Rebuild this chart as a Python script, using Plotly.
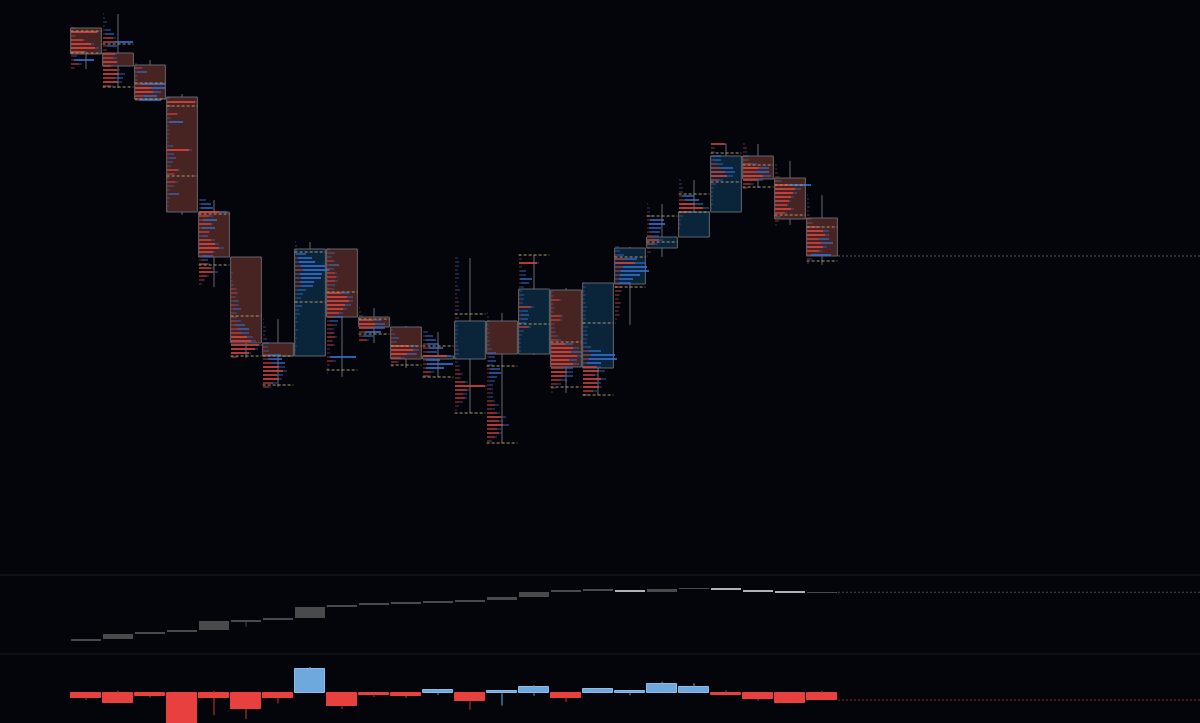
import plotly.graph_objects as go

# ---------------- data ----------------
candle_open  = [972, 947, 935, 903, 788, 743, 657, 644, 751, 683, 673, 641,
                641, 679, 646, 710, 632, 716, 752, 763, 788, 844, 822, 782]
candle_close = [946, 934, 901, 788, 743, 657, 644, 751, 683, 673, 641, 644,
                679, 646, 711, 633, 717, 752, 763, 788, 844, 821, 781, 744]
candle_high  = [972, 986, 940, 906, 800, 743, 681, 758, 751, 692, 674, 668,
                742, 687, 745, 712, 717, 753, 796, 820, 856, 856, 839, 805]
candle_low   = [931, 912, 899, 785, 713, 642, 613, 644, 623, 657, 632, 623,
                587, 557, 645, 607, 605, 675, 743, 763, 788, 812, 775, 735]
value_area_high = [969, 956, 917, 894, 786, 684, 644, 748, 708, 681, 654, 654,
                   686, 634, 745, 658, 677, 743, 784, 806, 847, 835, 815, 773]
value_area_low  = [947, 913, 901, 824, 735, 644, 615, 698, 630, 666, 635, 623,
                   587, 557, 676, 613, 605, 713, 758, 788, 818, 813, 785, 739]

PROFILE_STEP = 4  # price distance between profile rows (starting at the high)
profile_sell = [
    [3, 26, 4, 12, 20, 24, 14, 2, 3, 8, 3],
    [0, 0, 1, 1, 2, 2, 10, 12, 4, 3, 12, 10, 14, 8, 14, 16, 12, 15, 8],
    [0, 1, 6, 2, 1, 2, 6, 16, 18, 8, 4],
    [0, 1, 28, 4, 1, 10, 2, 2, 1, 1, 2, 1, 1, 1, 22, 1, 2, 1, 2, 11, 6, 2, 8, 3, 1, 2, 1, 1, 1, 0, 0],
    [1, 2, 2, 20, 10, 4, 12, 3, 10, 2, 12, 16, 20, 14, 3, 2, 9, 12, 14, 8, 5, 2],
    [0, 0, 0, 0, 1, 1, 1, 2, 4, 6, 3, 2, 5, 2, 3, 2, 5, 4, 6, 10, 16, 20, 28, 24, 18, 6],
    [0, 0, 1, 1, 1, 1, 2, 3, 2, 6, 5, 10, 16, 20, 14, 16, 10, 6],
    [0, 0, 1, 1, 3, 4, 6, 8, 5, 6, 5, 6, 3, 2, 2, 1, 1, 1, 1, 0, 1, 0, 1, 0, 1, 0, 1, 0, 0],
    [1, 2, 2, 6, 2, 4, 8, 9, 8, 3, 4, 14, 20, 22, 18, 16, 12, 6, 3, 6, 4, 7, 8, 5, 6, 2, 2, 3, 6, 2, 1, 1, 0],
    [1, 1, 2, 14, 16, 14, 6, 4, 8],
    [0, 1, 1, 2, 2, 18, 22, 16, 10, 6, 2],
    [1, 2, 3, 4, 6, 4, 24, 3, 4, 3, 8, 6],
    [1, 1, 2, 1, 1, 2, 1, 1, 2, 1, 1, 3, 2, 1, 1, 2, 1, 1, 2, 1, 1, 2, 1, 3, 2, 1, 2, 3, 4,
     6, 4, 10, 30, 12, 8, 10, 5, 2, 1],
    [0, 1, 1, 0, 1, 1, 1, 1, 1, 2, 1, 2, 1, 2, 3, 2, 2, 3, 2, 4, 3, 2, 6, 8, 5, 10, 14, 12, 16, 10, 12, 8, 4],
    [1, 2, 18, 2, 1, 2, 1, 2, 2, 1, 1, 2, 2, 12, 3, 2, 2, 2, 10, 2, 1, 1, 1, 1, 1, 0],
    [0, 1, 2, 8, 2, 3, 2, 10, 9, 3, 2, 3, 4, 6, 14, 22, 20, 26, 18, 22, 12, 16, 14, 10, 6, 3, 1],
    [0, 1, 1, 1, 1, 2, 1, 1, 2, 1, 1, 2, 2, 1, 2, 1, 2, 6, 8, 6, 4, 14, 16, 12, 18, 14, 16, 10, 4],
    [1, 1, 3, 10, 20, 8, 6, 5, 4, 4, 5, 6, 4, 3, 5, 4, 3, 4, 2, 1],
    [0, 1, 1, 2, 3, 2, 2, 3, 6, 12, 8, 2, 3, 1],
    [1, 1, 2, 1, 3, 6, 16, 24, 10, 2, 1, 1, 1, 0, 0],
    [14, 3, 2, 2, 2, 6, 10, 14, 16, 8, 2, 1, 1, 1, 1, 1, 1, 0],
    [1, 3, 2, 2, 3, 8, 16, 12, 20, 14, 8, 4],
    [0, 1, 1, 2, 3, 4, 14, 20, 18, 16, 14, 12, 16, 10, 4, 3, 1],
    [0, 1, 1, 1, 1, 2, 3, 4, 10, 16, 18, 12, 14, 16, 12, 4, 3, 1],
]
profile_buy = [
    [2, 2, 1, 2, 3, 4, 2, 4, 20, 3, 1],
    [1, 2, 3, 1, 6, 9, 3, 18, 10, 1, 2, 4, 1, 2, 3, 6, 8, 4, 2],
    [0, 1, 2, 10, 2, 1, 24, 14, 8, 14, 22],
    [0, 2, 2, 1, 1, 1, 2, 14, 1, 2, 1, 1, 1, 5, 3, 6, 7, 5, 2, 2, 2, 1, 3, 4, 2, 10, 2, 1, 1, 1, 0],
    [6, 10, 12, 8, 4, 14, 2, 13, 1, 7, 4, 4, 5, 2, 11, 7, 2, 3, 5, 2, 1, 1],
    [0, 0, 0, 0, 1, 0, 1, 1, 2, 1, 2, 6, 3, 8, 3, 4, 5, 10, 12, 8, 6, 5, 4, 3, 2, 1],
    [1, 1, 2, 2, 1, 3, 4, 2, 4, 12, 14, 12, 6, 4, 6, 3, 4, 2],
    [1, 2, 1, 10, 14, 16, 24, 26, 22, 20, 14, 12, 8, 6, 4, 2, 6, 3, 4, 2, 2, 1, 2, 1, 1, 1, 1, 1, 0],
    [2, 6, 3, 2, 10, 3, 2, 2, 3, 5, 3, 8, 6, 4, 6, 4, 4, 10, 8, 4, 3, 1, 2, 1, 2, 1, 1, 26, 3, 1, 1, 0, 0],
    [0, 1, 2, 8, 10, 12, 16, 10, 2],
    [0, 1, 3, 6, 4, 8, 6, 10, 4, 2, 1],
    [4, 8, 10, 12, 14, 10, 4, 14, 26, 18, 3, 2],
    [2, 3, 2, 2, 3, 2, 1, 2, 3, 1, 2, 1, 2, 3, 1, 2, 1, 2, 1, 2, 1, 1, 2, 1, 2, 1, 1, 2, 1, 2,
     2, 3, 2, 3, 4, 2, 3, 2, 1],
    [1, 1, 2, 2, 1, 2, 1, 2, 2, 3, 8, 6, 8, 4, 10, 12, 8, 5, 4, 2, 3, 4, 2, 4, 3, 3, 5, 4, 6, 4, 3, 2, 1],
    [1, 1, 2, 1, 6, 5, 12, 8, 3, 2, 4, 3, 2, 3, 6, 8, 7, 5, 2, 3, 2, 1, 1, 1, 1, 0],
    [0, 1, 1, 2, 1, 1, 1, 2, 2, 1, 2, 2, 3, 4, 8, 6, 10, 5, 8, 6, 10, 6, 8, 6, 4, 2, 1],
    [1, 2, 1, 2, 1, 1, 3, 2, 1, 2, 1, 3, 2, 4, 2, 3, 6, 12, 24, 28, 14, 4, 6, 3, 5, 4, 3, 4, 2],
    [3, 4, 6, 12, 10, 24, 28, 20, 14, 12, 2, 1, 1, 1, 1, 1, 1, 1, 0, 0],
    [1, 2, 2, 4, 14, 16, 12, 10, 6, 4, 3, 1, 1, 0],
    [1, 2, 2, 3, 12, 14, 8, 6, 4, 2, 1, 1, 0, 0, 0],
    [2, 1, 2, 8, 8, 6, 12, 10, 6, 4, 3, 2, 1, 1, 1, 1, 0, 0],
    [1, 1, 2, 4, 3, 6, 10, 14, 8, 6, 3, 1],
    [0, 1, 1, 1, 2, 3, 22, 6, 4, 3, 2, 2, 3, 2, 2, 1, 1],
    [1, 1, 1, 2, 1, 1, 2, 2, 4, 6, 4, 10, 12, 4, 3, 20, 2, 1],
]

# cumulative (middle pane)
cum_start = 19.0
cum_close = [20.7, 25.7, 28, 30, 38.7, 40, 42.3, 53, 55, 56.7, 57.3, 58,
             60, 63.3, 68, 69.3, 70, 68.3, 71, 72, 70, 68.3, 67, 67.7]
cum_low_extra = {5: 33.3}

# delta (bottom pane)
delta_close = [-4.4, -10, -2.4, -34, -4.4, -15.7, -4.4, 24, -13, -1.3, -2.7, 3,
               -8, 2.3, 6.3, -4.7, 4.6, 2, 9.6, 6, -1.4, -6, -10, -6.7]
delta_high = [0, 2.6, 0, 0, 2.3, 0, 0.6, 26.3, 0, 0, 0, 4.3,
              0, 2.6, 8, 0, 4.6, 2, 11.6, 10, 3, 0, 0, 2.3]
delta_low = [-6.7, -10, -4.4, -34, -21.7, -25.7, -10, 0, -15.7, -3.7, -4.7, -1.7,
             -16.4, -12.4, -2.4, -8.7, 0, -2, 0, 0, -1.4, -7.7, -10, -6.7]

# ---------------- styling ----------------
BG = "#04050b"
W, H = 1200, 723
X_RANGE = [-86 / 32, (W - 86) / 32]
SELL = (222, 70, 66)
BUY = (52, 112, 212)
VOL_PX = 1 / 32.0

n = len(candle_open)
xs = list(range(n))

def dom(top_px, bot_px):
    return [(H - bot_px) / H, (H - top_px) / H]

fig = go.Figure()

# ---- candle bodies (shapes in data coords) ----
for i in range(n):
    up = candle_close[i] >= candle_open[i]
    fig.add_shape(type="rect", xref="x", yref="y",
                  x0=i - 0.48, x1=i + 0.48,
                  y0=candle_open[i], y1=candle_close[i],
                  fillcolor="#0a2439" if up else "#472322",
                  line=dict(color="#62676e", width=1), layer="below")

# ---- profiles ----
def rgba(c, v):
    a = 0.22 + 0.6 * min(v / 16.0, 1.0)
    return f"rgba({c[0]},{c[1]},{c[2]},{a:.2f})"

sy, sx, sb, sc = [], [], [], []
by, bx, bb, bc = [], [], [], []
for i in range(n):
    left = i - 0.5 + 0.03
    for k, (s, b) in enumerate(zip(profile_sell[i], profile_buy[i])):
        p = candle_high[i] - k * PROFILE_STEP
        if s > 0:
            sy.append(p); sx.append(s * VOL_PX); sb.append(left); sc.append(rgba(SELL, s))
        if b > 0:
            by.append(p); bx.append(b * VOL_PX); bb.append(left + s * VOL_PX); bc.append(rgba(BUY, b))

fig.add_trace(go.Bar(orientation="h", y=sy, x=sx, base=sb, width=1.7,
                     marker=dict(color=sc, line=dict(width=0)),
                     xaxis="x", yaxis="y", showlegend=False, hoverinfo="skip"))
fig.add_trace(go.Bar(orientation="h", y=by, x=bx, base=bb, width=1.7,
                     marker=dict(color=bc, line=dict(width=0)),
                     xaxis="x", yaxis="y", showlegend=False, hoverinfo="skip"))

# ---- wicks ----
wx, wy = [], []
for i in range(n):
    top = max(candle_open[i], candle_close[i])
    bot = min(candle_open[i], candle_close[i])
    if candle_high[i] > top:
        wx += [i, i, None]; wy += [candle_high[i], top, None]
    if candle_low[i] < bot:
        wx += [i, i, None]; wy += [bot, candle_low[i], None]
fig.add_trace(go.Scatter(x=wx, y=wy, mode="lines", line=dict(color="#666a70", width=1),
                         xaxis="x", yaxis="y", showlegend=False, hoverinfo="skip"))

# ---- value area dashed lines ----
vx, vy = [], []
for i in range(n):
    for lvl in (value_area_high[i], value_area_low[i]):
        vx += [i - 0.48, i + 0.48, None]; vy += [lvl, lvl, None]
fig.add_trace(go.Scatter(x=vx, y=vy, mode="lines",
                         line=dict(color="#ab9b68", width=1, dash="3px,2px"),
                         xaxis="x", yaxis="y", showlegend=False, hoverinfo="skip"))

# last price line
fig.add_trace(go.Scatter(x=[n - 0.5, X_RANGE[1] + 1], y=[candle_close[-1]] * 2, mode="lines",
                         line=dict(color="#5c6068", width=1, dash="2px,2px"),
                         xaxis="x", yaxis="y", showlegend=False, hoverinfo="skip"))

# ---- middle pane: cumulative boxes ----
cum_open = [cum_start] + cum_close[:-1]
m_base, m_h, m_col = [], [], []
for i in range(n):
    lo = min(cum_open[i], cum_close[i]); hi = max(cum_open[i], cum_close[i])
    m_base.append(lo); m_h.append(max(hi - lo, 0.9))
    m_col.append("#4a4a4c" if cum_close[i] >= cum_open[i] else "#b2b2b4")
mwx, mwy = [], []
for i, lo in cum_low_extra.items():
    mwx += [i, i, None]; mwy += [min(cum_open[i], cum_close[i]), lo, None]
fig.add_trace(go.Scatter(x=mwx, y=mwy, mode="lines", line=dict(color="#4a4a4c", width=1),
                         xaxis="x2", yaxis="y2", showlegend=False, hoverinfo="skip"))
fig.add_trace(go.Bar(x=xs, y=m_h, base=m_base, width=0.95,
                     marker=dict(color=m_col, line=dict(width=0)),
                     xaxis="x2", yaxis="y2", showlegend=False, hoverinfo="skip"))
fig.add_trace(go.Scatter(x=[n - 0.5, X_RANGE[1] + 1], y=[cum_close[-1]] * 2, mode="lines",
                         line=dict(color="#44464c", width=1, dash="2px,2px"),
                         xaxis="x2", yaxis="y2", showlegend=False, hoverinfo="skip"))

# ---- bottom pane: delta ----
for positive, colr in ((True, "#6fa8dc"), (False, "#c83634")):
    dx, dy = [], []
    for i in range(n):
        if (delta_close[i] >= 0) == positive:
            top = max(0, delta_close[i]); bot = min(0, delta_close[i])
            if delta_high[i] > top:
                dx += [i, i, None]; dy += [delta_high[i], top, None]
            if delta_low[i] < bot:
                dx += [i, i, None]; dy += [bot, delta_low[i], None]
    fig.add_trace(go.Scatter(x=dx, y=dy, mode="lines", line=dict(color=colr, width=1),
                             xaxis="x3", yaxis="y3", showlegend=False, hoverinfo="skip"))
d_col = ["#6fa8dc" if d >= 0 else "#e8403f" for d in delta_close]
d_line = ["#8fbce6" if d >= 0 else "#e8403f" for d in delta_close]
fig.add_trace(go.Bar(x=xs, y=delta_close, base=[0] * n, width=0.95,
                     marker=dict(color=d_col, line=dict(color=d_line, width=1)),
                     xaxis="x3", yaxis="y3", showlegend=False, hoverinfo="skip"))
fig.add_trace(go.Scatter(x=[n - 0.5, X_RANGE[1] + 1], y=[delta_close[-1]] * 2, mode="lines",
                         line=dict(color="#8a2a2a", width=1, dash="2px,2px"),
                         xaxis="x3", yaxis="y3", showlegend=False, hoverinfo="skip"))

# pane separators
for ypx in (575, 654):
    fig.add_shape(type="line", xref="paper", yref="paper", x0=0, x1=1,
                  y0=(H - ypx) / H, y1=(H - ypx) / H,
                  line=dict(color="#1a1c22", width=1))

ax = dict(showgrid=False, zeroline=False, showticklabels=False, showline=False,
          range=X_RANGE, fixedrange=True)
fig.update_layout(
    width=W, height=H, margin=dict(l=0, r=0, t=0, b=0),
    paper_bgcolor=BG, plot_bgcolor=BG, barmode="overlay", bargap=0,
    showlegend=False,
    xaxis=dict(ax, anchor="y"),
    xaxis2=dict(ax, anchor="y2"),
    xaxis3=dict(ax, anchor="y3"),
    yaxis=dict(showgrid=False, zeroline=False, showticklabels=False,
               domain=dom(0, 574), range=[1000 - 574, 1000]),
    yaxis2=dict(showgrid=False, zeroline=False, showticklabels=False,
                domain=dom(576, 653), range=[660 - 653, 660 - 576]),
    yaxis3=dict(showgrid=False, zeroline=False, showticklabels=False,
                domain=dom(655, 723), range=[693.3 - 723, 693.3 - 655]),
)

fig.write_html("out.html", config={"displayModeBar": False},
               post_script="document.body.style.margin='0';")
